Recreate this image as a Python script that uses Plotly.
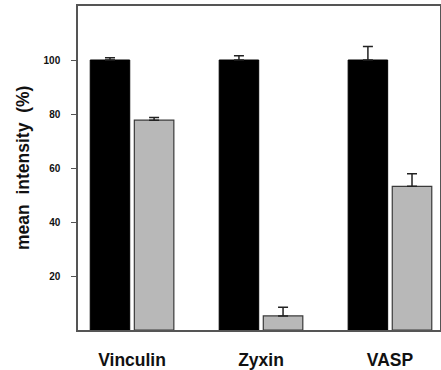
import plotly.graph_objects as go

categories = ["Vinculin", "Zyxin", "VASP"]
control_values = [100, 100, 100]
control_errors = [0.8, 1.6, 5.0]
treated_values = [77.7, 5.2, 53.2]
treated_errors = [1.0, 3.2, 4.7]
y_ticks = [20, 40, 60, 80, 100]

FONT = "Liberation Sans, Arial, sans-serif"

fig = go.Figure()
fig.add_trace(go.Bar(
    x=categories, y=control_values,
    marker=dict(color="#000000", line=dict(color="#000000", width=1)),
    error_y=dict(type="data", array=control_errors, arrayminus=[0]*3, symmetric=False,
                 color="#222222", thickness=1.5, width=5),
    showlegend=False,
))
fig.add_trace(go.Bar(
    x=categories, y=treated_values,
    marker=dict(color="#b8b8b8", line=dict(color="#3a3a3a", width=1.2)),
    error_y=dict(type="data", array=treated_errors, arrayminus=[0]*3, symmetric=False,
                 color="#222222", thickness=1.5, width=5),
    showlegend=False,
))

fig.update_layout(
    width=441, height=370,
    margin=dict(l=78, r=1, t=6, b=40, autoexpand=False),
    paper_bgcolor="white", plot_bgcolor="white",
    barmode="group", bargap=0.316, bargroupgap=0.104,
    font=dict(family=FONT, color="#111111"),
    xaxis=dict(
        range=[-0.419, 2.388], showgrid=False, ticks="", automargin=False,
        showline=True, linecolor="#555555", linewidth=1.5, mirror=True,
        tickfont=dict(size=17.5, family=FONT, weight="bold"),
        ticklabelstandoff=13,
    ),
    yaxis=dict(
        range=[0, 120], tickvals=y_ticks, showgrid=False, zeroline=False, automargin=False,
        ticks="outside", ticklen=5, tickwidth=1, tickcolor="#555555",
        showline=True, linecolor="#555555", linewidth=1.5, mirror=True,
        tickfont=dict(size=10, family=FONT, weight="bold"),
        ticklabelstandoff=9,
    ),
    annotations=[dict(
        text="mean  intensity  (%)", textangle=-90,
        xref="paper", yref="paper", x=-0.152, y=0.5, xanchor="center", yanchor="middle",
        showarrow=False, font=dict(size=17.5, family=FONT, weight="bold", color="#111111"),
    )],
)

fig.write_html("out.html", config={"displayModeBar": False},
               post_script="document.body.style.margin='0';document.body.style.padding='0';")
